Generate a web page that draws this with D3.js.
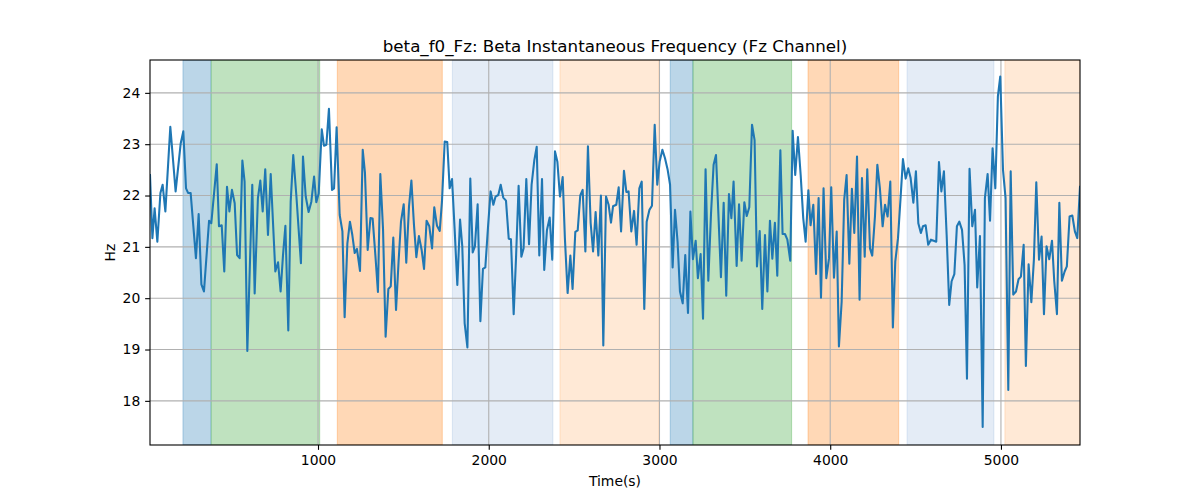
<!DOCTYPE html>
<html>
<head>
<meta charset="utf-8">
<script src="https://cdn.jsdelivr.net/npm/d3@7"></script>
<style>
  html, body { margin: 0; padding: 0; background: #fff; }
  svg { display: block; }
  text { font-family: "DejaVu Sans", sans-serif; fill: #000; }
</style>
</head>
<body>
<svg id="chart" width="1200" height="500"></svg>
<script>
// ---------- data ----------
const chartTitle = "beta_f0_Fz: Beta Instantaneous Frequency (Fz Channel)";
const xLabel = "Time(s)";
const yLabel = "Hz";

const times = [
  16,30,43,59,77,90,106,135,166,196,211,227,239,254,285,301,317,332,362,375,
  407,420,436,451,467,481,496,512,526,541,557,570,586,615,629,648,662,676,691,707,
  723,750,766,781,795,809,826,840,855,873,900,
  912,928,945,961,977,990,1004,1022,1035,1049,1064,1082,1094,1109,1127,1143,1156,1172,1187,1201,
  1215,1228,1246,1262,1275,1291,1307,1320,1336,1351,1365,1381,1396,1412,1426,1441,1457,1472,1486,1502,
  1517,1533,1547,1562,1576,1591,1607,1621,1636,1652,1668,1681,1697,1713,1726,1742,1757,1771,1785,1800,1816,
  1832,1845,1859,1875,1892,1906,1919,1935,1951,1966,1980,1996,2011,2027,2040,2056,2070,2085,2101,2117,
  2130,2146,2160,2175,2191,2204,2220,2236,2251,2267,2281,2296,2312,2325,2341,2357,2372,2388,2402,2417,
  2433,2446,2462,2478,2491,2507,2521,2536,2550,2566,2581,2597,2611,2626,2642,2657,2671,2687,2702,2716,2728,
  2747,2761,2775,2792,2806,2819,2835,2851,2866,2882,2896,2911,2925,2941,2956,2972,2987,3001,3017,3032,
  3048,3062,3077,3091,3106,3120,3136,3151,3167,3181,3196,3212,3225,3241,3255,3270,3286,3302,3317,3331,
  3346,3360,3376,3391,3407,3421,3434,3452,3466,3481,3497,3511,3526,3542,3557,3571,3587,3602,3618,3632,
  3647,3661,3676,3690,3708,3721,3735,3749,3766,3780,3795,3811,3827,3842,3856,3872,3885,3901,3917,3932,
  3946,3961,3977,3993,4006,4022,4038,4051,4067,4082,4096,4112,4127,4141,4157,4172,4186,4202,4217,4233,
  4246,4262,4276,4291,4307,4321,4336,4352,4367,4381,4397,4412,4426,4442,4457,4471,4487,4502,4516,4531,4543,
  4559,4574,4590,4606,4621,4637,4651,4666,4682,4697,4711,4727,4742,4756,4772,4787,4801,4816,4832,4848,
  4861,4877,4893,4906,4922,4936,4951,4967,4982,4996,5012,5027,5043,5057,5072,5088,5103,5117,5133,5146,
  5162,5178,5193,5207,5223,5238,5252,5267,5283,5299,5312,5328,5342,5357,5373,5386,5402,5418,5433,5447,5463
];

const freqHz = [
  22.40,21.17,21.75,21.10,22.05,22.21,21.69,23.34,22.08,23.02,23.25,22.14,22.05,22.05,20.78,21.64,20.27,20.13,21.51,21.46,
  22.61,21.40,21.42,20.52,22.17,21.69,22.11,21.85,20.84,20.78,22.68,22.27,18.97,22.21,20.09,21.95,22.29,21.69,22.51,21.23,
  22.42,20.52,20.70,20.13,20.84,21.41,19.37,21.88,22.79,22.01,20.68,
  22.76,21.98,21.68,21.88,22.37,21.87,22.04,23.29,22.97,22.99,23.69,22.11,22.14,23.33,21.62,21.30,19.63,21.07,21.49,21.23,
  20.88,20.96,20.53,22.89,22.44,20.94,21.56,21.55,20.84,20.12,22.42,21.33,19.25,20.18,20.23,21.18,19.77,20.72,21.49,21.83,
  20.69,21.79,22.29,21.43,20.80,21.21,20.94,20.57,21.51,21.40,20.97,21.77,21.41,21.31,21.88,23.05,23.04,22.14,22.32,21.36,20.26,
  21.53,21.01,19.51,19.04,22.33,20.89,21.01,21.83,19.55,20.57,20.60,21.40,22.08,21.82,21.98,22.01,22.21,21.96,21.90,21.16,
  21.15,19.69,20.80,22.19,20.81,20.97,22.32,21.05,22.21,22.69,22.95,20.83,22.32,20.55,21.33,21.57,20.75,22.86,22.66,21.98,
  22.36,21.17,20.10,20.83,20.18,21.29,21.32,22.00,22.11,20.91,22.96,21.46,20.91,21.68,20.83,22.00,19.08,21.98,21.82,21.47,21.79,
  21.82,22.16,21.30,22.48,22.07,22.08,21.30,21.70,21.04,22.14,22.27,19.79,21.49,21.72,21.80,23.38,22.21,22.66,22.89,22.73,
  22.50,22.21,20.60,21.72,21.10,20.13,19.90,20.84,19.71,21.69,20.76,21.12,20.39,20.86,19.60,22.51,20.34,21.66,22.60,22.79,
  21.56,20.41,21.86,20.05,22.03,21.56,22.27,20.63,21.83,20.73,21.87,21.60,21.77,23.38,23.08,20.62,21.31,19.79,21.23,20.13,
  21.51,20.77,21.47,20.44,22.88,21.25,21.25,21.14,20.73,23.26,22.40,23.14,22.40,21.56,21.10,22.10,21.42,21.82,20.47,21.95,
  20.01,22.14,20.39,20.78,22.16,20.40,21.30,19.06,19.93,21.92,22.40,20.67,22.13,21.27,22.76,19.97,22.34,20.81,22.51,20.97,
  20.83,21.59,22.60,22.14,21.40,21.82,21.59,22.27,19.43,20.71,21.17,21.95,22.71,22.33,22.53,22.34,21.86,22.47,21.46,21.27,21.40,
  21.42,21.04,21.14,21.12,21.10,22.65,22.08,22.47,21.23,19.87,20.33,20.47,21.40,21.49,21.33,20.65,18.43,22.52,21.40,21.72,
  20.21,21.21,17.49,21.95,22.42,21.51,22.92,22.14,23.93,24.32,22.50,21.95,18.21,22.47,20.07,20.13,20.37,20.42,21.04,18.68,
  20.66,19.92,20.75,22.26,20.75,21.20,19.69,21.01,20.76,21.12,20.34,19.69,21.86,20.34,20.52,20.62,21.59,21.61,21.30,21.17,22.17
];

// shaded epochs: start, end, colour key
const spanStarts = [209, 375, 1113, 1787, 2417, 3063, 3196, 3870, 4450, 5023];
const spanEnds   = [373, 1010, 1728, 2376, 2997, 3196, 3774, 4401, 4959, 5463];
const spanKinds  = ["blueDark","green","orange","blueLight","orangeLight","blueDark","green","orange","blueLight","orangeLight"];

const xTicks = [1000, 2000, 3000, 4000, 5000];
const yTicks = [18, 19, 20, 21, 22, 23, 24];

// ---------- layout ----------
const W = 1200, H = 500;
const M = { left: 150, right: 1080, top: 60, bottom: 445 };

const spanStyle = {
  blueDark:    { color: "#1f77b4", alpha: 0.30 },
  green:       { color: "#2ca02c", alpha: 0.30 },
  orange:      { color: "#ff7f0e", alpha: 0.30 },
  blueLight:   { color: "#1f5fb4", alpha: 0.12 },
  orangeLight: { color: "#ff7f0e", alpha: 0.17 }
};

const svg = d3.select("#chart");

const x = d3.scaleLinear().domain([16, 5463]).range([M.left, M.right]);
const y = d3.scaleLinear().domain([17.14, 24.64]).range([M.bottom, M.top]);

svg.append("defs").append("clipPath").attr("id", "plotclip")
  .append("rect").attr("x", M.left).attr("y", M.top)
  .attr("width", M.right - M.left).attr("height", M.bottom - M.top);

const plot = svg.append("g").attr("clip-path", "url(#plotclip)");

// spans
const spans = spanStarts.map((s, i) => ({ s, e: spanEnds[i], k: spanKinds[i] }));
plot.append("g").selectAll("rect").data(spans).join("rect")
  .attr("x", d => x(d.s))
  .attr("y", M.top)
  .attr("width", d => x(d.e) - x(d.s))
  .attr("height", M.bottom - M.top)
  .attr("fill", d => spanStyle[d.k].color)
  .attr("fill-opacity", d => spanStyle[d.k].alpha)
  .attr("stroke", d => spanStyle[d.k].color)
  .attr("stroke-opacity", d => spanStyle[d.k].alpha)
  .attr("stroke-width", 1);

// grid
const grid = plot.append("g").attr("stroke", "#b0b0b0").attr("stroke-width", 1.1);
grid.selectAll("line.gx").data(xTicks).join("line").attr("class", "gx")
  .attr("x1", d => x(d)).attr("x2", d => x(d))
  .attr("y1", M.top).attr("y2", M.bottom);
grid.selectAll("line.gy").data(yTicks).join("line").attr("class", "gy")
  .attr("x1", M.left).attr("x2", M.right)
  .attr("y1", d => y(d)).attr("y2", d => y(d));

// line
const series = times.map((t, i) => ({ t, v: freqHz[i] }));
plot.append("path").datum(series)
  .attr("fill", "none")
  .attr("stroke", "#1f77b4")
  .attr("stroke-width", 2.08)
  .attr("stroke-linejoin", "round")
  .attr("stroke-linecap", "square")
  .attr("d", d3.line().x(d => x(d.t)).y(d => y(d.v)));

// frame
svg.append("rect")
  .attr("x", M.left).attr("y", M.top)
  .attr("width", M.right - M.left).attr("height", M.bottom - M.top)
  .attr("fill", "none").attr("stroke", "#000").attr("stroke-width", 1.1);

// axes
const tickLen = 4.86, tickPad = 4.86;
const xAxis = svg.append("g").attr("transform", `translate(0,${M.bottom})`)
  .call(d3.axisBottom(x).tickValues(xTicks).tickFormat(d3.format("d"))
    .tickSize(tickLen).tickPadding(tickPad));
const yAxis = svg.append("g").attr("transform", `translate(${M.left},0)`)
  .call(d3.axisLeft(y).tickValues(yTicks).tickFormat(d3.format("d"))
    .tickSize(tickLen).tickPadding(tickPad));
[xAxis, yAxis].forEach(a => {
  a.select(".domain").remove();
  a.selectAll(".tick line").attr("stroke", "#000").attr("stroke-width", 1.1);
  a.selectAll(".tick text").attr("fill", "#000")
    .style("font-family", "'DejaVu Sans', sans-serif").style("font-size", "13.9px");
});

// title and labels
svg.append("text")
  .attr("x", (M.left + M.right) / 2).attr("y", 52)
  .attr("text-anchor", "middle")
  .style("font-size", "16.7px")
  .text(chartTitle);

svg.append("text")
  .attr("x", (M.left + M.right) / 2).attr("y", 486)
  .attr("text-anchor", "middle")
  .style("font-size", "13.9px")
  .text(xLabel);

svg.append("text")
  .attr("transform", `translate(115,${(M.top + M.bottom) / 2}) rotate(-90)`)
  .attr("text-anchor", "middle")
  .style("font-size", "13.9px")
  .text(yLabel);
</script>
</body>
</html>
